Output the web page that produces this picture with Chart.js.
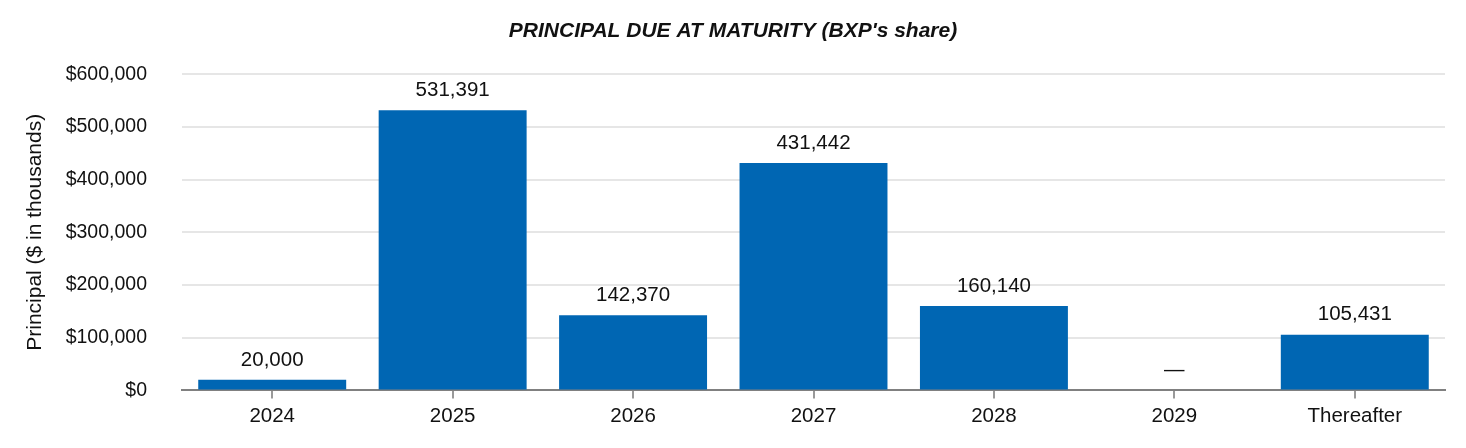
<!DOCTYPE html>
<html>
<head>
<meta charset="utf-8">
<script src="https://cdn.jsdelivr.net/npm/chart.js@4/dist/chart.umd.min.js"></script>
<style>
  html, body { margin: 0; padding: 0; background: #fff; }
  #wrap { width: 1466px; height: 448px; }
</style>
</head>
<body>
<div id="wrap"><canvas id="principalChart"></canvas></div>
<script>
// Principal due at maturity, $ in thousands
const years = ['2024', '2025', '2026', '2027', '2028', '2029', 'Thereafter'];
const principal = [20000, 531391, 142370, 431442, 160140, 0, 105431];

const barColor = '#0066b3';
const fontFamily = '"Liberation Sans", Arial, sans-serif';

// Draw the value above each bar (zero shows as a dash)
const valueLabels = {
    id: 'valueLabels',
    afterDatasetsDraw(chart) {
        const ctx = chart.ctx;
        const meta = chart.getDatasetMeta(0);
        ctx.save();
        ctx.font = '20.5px ' + fontFamily;
        ctx.fillStyle = '#111';
        ctx.textAlign = 'center';
        ctx.textBaseline = 'middle';
        meta.data.forEach((bar, i) => {
            const v = chart.data.datasets[0].data[i];
            const text = v === 0 ? '—' : v.toLocaleString('en-US');
            ctx.fillText(text, bar.x, bar.y - 20);
        });
        ctx.restore();
    }
};

const ctx = document.getElementById('principalChart').getContext('2d');
new Chart(ctx, {
    type: 'bar',
    data: {
        labels: years,
        datasets: [{
            data: principal,
            backgroundColor: barColor,
            barPercentage: 0.82,
            categoryPercentage: 1.0
        }]
    },
    options: {
        responsive: true,
        maintainAspectRatio: false,
        animation: false,
        layout: { padding: { left: 0, right: 0, top: 0, bottom: 13 } },
        plugins: {
            legend: { display: false },
            tooltip: { enabled: false },
            title: {
                display: true,
                text: "PRINCIPAL DUE AT MATURITY (BXP's share)",
                color: '#111',
                font: { family: fontFamily, size: 21, weight: 'bold', style: 'italic' },
                padding: { top: 19, bottom: 30 }
            }
        },
        scales: {
            x: {
                grid: {
                    display: true,
                    drawOnChartArea: false,
                    offset: false,
                    tickLength: 8,
                    color: '#999',
                    lineWidth: 2
                },
                border: { display: true, color: '#808080', width: 2 },
                ticks: {
                    color: '#111',
                    padding: 6,
                    font: { family: fontFamily, size: 20.5 }
                }
            },
            y: {
                min: 0,
                max: 600000,
                afterFit(scale) { scale.width = 182; },
                grid: { color: '#e6e6e6', lineWidth: 2, drawTicks: false },
                border: { display: false },
                ticks: {
                    stepSize: 100000,
                    padding: 35,
                    color: '#111',
                    font: { family: fontFamily, size: 19.5 },
                    callback: (v) => '$' + v.toLocaleString('en-US')
                },
                title: {
                    display: true,
                    text: 'Principal ($ in thousands)',
                    color: '#111',
                    font: { family: fontFamily, size: 21 },
                    padding: { top: 23, bottom: 0 }
                }
            },
            // empty right-hand spacer so the title stays centred on the page
            yRight: {
                position: 'right',
                afterFit(scale) { scale.width = 21; },
                grid: { drawOnChartArea: false, drawTicks: false },
                border: { display: false },
                ticks: { display: false }
            }
        }
    },
    plugins: [valueLabels]
});
</script>
</body>
</html>
